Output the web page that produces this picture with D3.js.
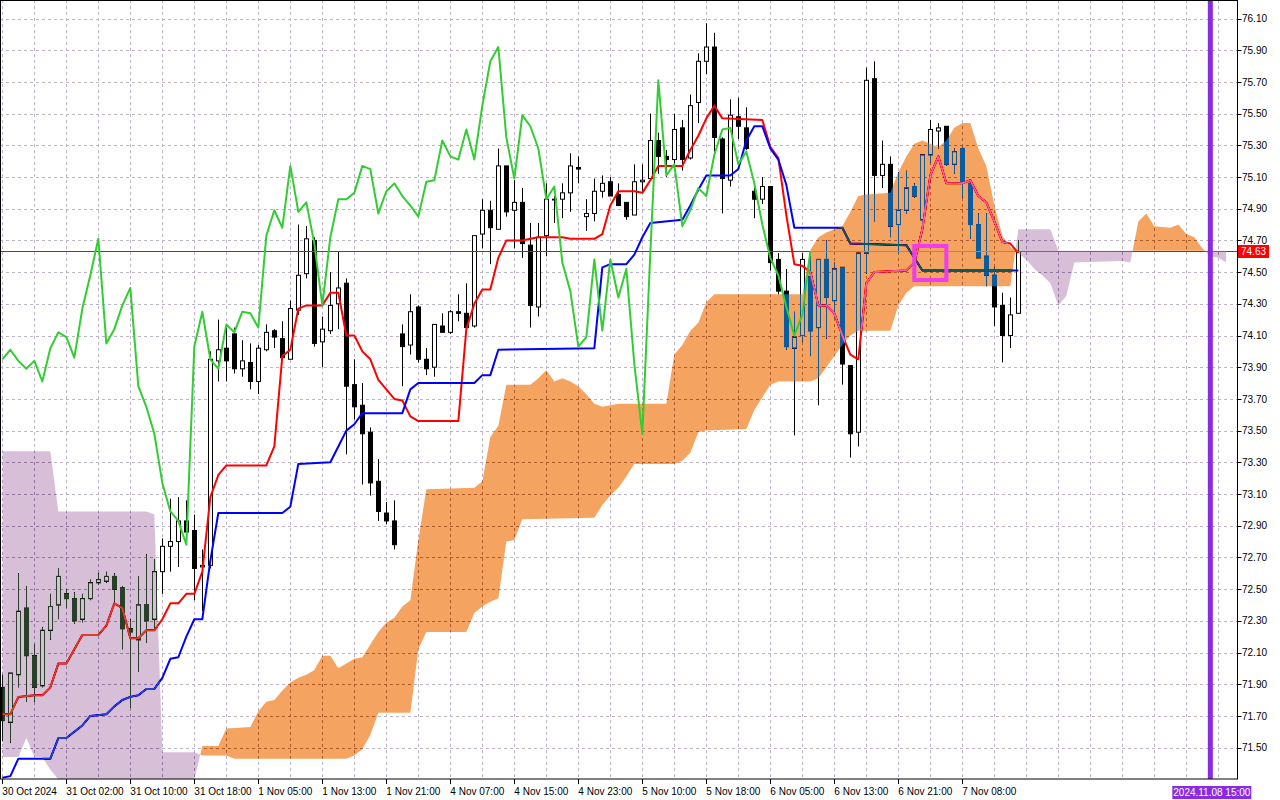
<!DOCTYPE html>
<html>
<head>
<meta charset="utf-8">
<script src="https://d3js.org/d3.v7.min.js"></script>
<style>
html, body { margin: 0; padding: 0; background: #fff; }
svg { display: block; }
text { font-family: "Liberation Sans", Arial, sans-serif; font-size: 10px; }
</style>
</head>
<body>
<svg id="chart" width="1280" height="800"></svg>
<script>
// H1 candles, [open, high, low, close], bar 0 = 30 Oct 2024
const candles = [
  [71.88,71.96,71.54,71.67],[71.66,71.97,71.53,71.97],[71.96,72.60,71.88,72.36],[72.38,72.52,71.79,72.08],
  [72.08,72.15,71.79,71.88],[71.89,72.26,71.88,72.24],[72.24,72.47,72.18,72.39],[72.40,72.63,72.31,72.58],
  [72.47,72.50,72.38,72.44],[72.44,72.48,72.28,72.30],[72.31,72.47,72.29,72.44],[72.44,72.56,72.43,72.54],
  [72.54,72.60,72.53,72.56],[72.55,72.61,72.54,72.58],[72.58,72.60,72.42,72.50],[72.51,72.52,72.12,72.25],
  [72.25,72.31,71.75,72.23],[72.18,72.58,71.98,72.40],[72.40,72.72,72.16,72.30],[72.31,72.69,72.25,72.61],
  [72.61,72.82,72.47,72.77],[72.77,73.07,72.61,72.80],[72.80,73.08,72.64,72.93],[72.93,73.06,72.79,72.86],
  [72.87,72.97,72.43,72.63],[72.64,72.75,72.36,72.65],[72.65,74.00,72.63,73.95],[73.94,74.20,73.81,74.01],
  [74.02,74.15,73.81,73.94],[74.11,74.15,73.86,73.89],[73.89,74.07,73.84,73.94],[73.93,74.05,73.76,73.81],
  [73.81,74.04,73.73,74.02],[74.01,74.17,74.00,74.12],[74.13,74.14,74.02,74.09],[74.08,74.19,73.96,73.96],
  [73.95,74.32,73.95,74.27],[74.26,74.80,74.23,74.48],[74.49,74.79,74.46,74.71],[74.70,74.72,74.03,74.05],
  [74.06,74.22,73.90,74.14],[74.13,74.50,74.11,74.29],[74.30,74.63,74.14,74.40],[74.43,74.46,73.35,73.78],
  [73.79,73.95,73.57,73.65],[73.66,73.80,73.16,73.48],[73.49,73.52,73.09,73.17],[73.18,73.32,72.93,72.99],
  [72.98,73.05,72.91,72.93],[72.93,73.06,72.75,72.78],[74.11,74.17,73.78,74.03],[74.04,74.36,73.98,74.25],
  [74.28,74.29,73.93,73.95],[73.95,74.02,73.85,73.89],[73.90,74.17,73.84,74.17],[74.16,74.24,74.12,74.12],
  [74.12,74.26,74.11,74.25],[74.25,74.36,74.19,74.24],[74.24,74.43,74.15,74.15],[74.16,74.73,74.15,74.73],
  [74.74,74.96,74.65,74.89],[74.89,74.95,74.55,74.78],[74.77,75.28,74.77,75.17],[75.17,75.17,74.85,74.88],
  [74.89,75.08,74.65,74.94],[74.94,75.03,74.59,74.68],[74.67,74.81,74.15,74.29],[74.28,74.81,74.22,74.72],
  [74.73,75.06,74.60,74.96],[74.96,74.98,74.81,74.96],[74.96,75.06,74.84,75.00],[75.00,75.25,74.88,75.17],
  [75.16,75.23,75.06,75.15],[74.85,74.96,74.76,74.87],[74.87,75.09,74.82,75.01],[75.01,75.11,74.97,75.06],
  [75.07,75.10,74.98,74.98],[74.99,75.06,74.92,74.92],[74.94,74.94,74.83,74.85],[74.86,75.18,74.86,75.07],
  [75.07,75.18,75.00,75.08],[75.09,75.50,75.09,75.33],[75.33,75.38,75.12,75.23],[75.23,75.27,75.10,75.21],
  [75.21,75.50,75.16,75.40],[75.41,75.46,75.14,75.21],[75.22,75.62,75.21,75.55],[75.57,75.88,75.44,75.83],
  [75.83,76.07,75.75,75.92],[75.92,76.01,75.26,75.35],[75.34,75.35,74.87,75.09],[75.08,75.59,75.04,75.49],
  [75.48,75.60,75.34,75.42],[75.41,75.54,75.27,75.28],[75.01,75.04,74.84,74.96],[74.96,75.10,74.93,75.04],
  [75.04,75.04,74.51,74.56],[74.58,74.62,74.36,74.38],[74.38,74.52,74.01,74.03],[74.02,74.25,73.47,74.09],
  [74.10,74.62,74.06,74.58],[74.47,74.60,73.97,74.13],[74.15,74.58,73.66,74.58],[74.58,74.70,74.08,74.34],
  [74.32,74.56,74.21,74.52],[74.53,74.53,73.79,73.92],[73.91,73.91,73.33,73.48],[73.49,74.62,73.40,74.62],
  [74.62,75.79,74.49,75.71],[75.72,75.83,74.82,75.11],[75.11,75.33,75.03,75.18],[75.18,75.23,74.72,74.79],
  [74.80,75.13,74.62,74.89],[74.89,75.14,74.87,75.03],[75.04,75.06,74.97,74.98],[74.83,75.24,74.78,75.24],
  [75.24,75.46,75.19,75.40],[75.39,75.44,75.28,75.41],[75.42,75.42,75.17,75.18],[75.18,75.28,75.12,75.26],
  [75.28,75.29,74.97,75.06],[75.06,75.06,74.71,74.80],[74.80,74.87,74.59,74.59],[74.60,74.87,74.41,74.48],
  [74.48,74.53,74.16,74.28],[74.29,74.37,73.93,74.10],[74.10,74.34,74.02,74.23],[74.24,74.70,74.24,74.63]
];

// indicator lines as [bar, price] vertices
const tenkan = [
  [0,71.71],[1,71.71],[2,71.82],[4,71.83],[5,71.83],[6,71.88],[7,72.03],[8,72.03],[10,72.21],[12,72.21],
  [13,72.27],[14,72.41],[15,72.38],[16,72.19],[17,72.19],[18,72.24],[19,72.24],[20,72.31],[21,72.41],[22,72.41],
  [23,72.47],[24,72.47],[25,72.61],[26,73.08],[27,73.22],[28,73.28],[33,73.28],[34,73.40],[35,73.97],[36,74.01],
  [37,74.27],[38,74.29],[40,74.29],[41,74.37],[42,74.37],[43,74.10],[44,74.10],[45,74.00],[46,73.95],[47,73.82],
  [49,73.70],[50,73.69],[51,73.59],[52,73.56],[57,73.56],[58,74.14],[59,74.30],[60,74.39],[61,74.39],[62,74.59],
  [63,74.70],[65,74.70],[66,74.71],[67,74.72],[70,74.72],[71,74.71],[74,74.71],[75,74.74],[76,74.92],[77,75.01],
  [79,75.01],[80,75.00],[81,75.08],[82,75.17],[85,75.17],[86,75.27],[87,75.36],[88,75.47],[89,75.55],[90,75.47],
  [95,75.46],[96,75.29],[97,75.22],[98,74.86],[99,74.55],[100,74.54],[101,74.50],[102,74.29],[103,74.29],[104,74.24],
  [105,74.10],[106,73.98],[107,73.95],[108,74.43],[109,74.50],[113,74.51],[114,74.56],[115,74.77],[116,75.11],[117,75.23],
  [118,75.06],[120,75.06],[121,75.08],[122,74.98],[123,74.94],[124,74.82],[125,74.69],[126,74.68],[127,74.62]
];

const kijun = [
  [0,71.31],[1,71.32],[2,71.43],[6,71.43],[7,71.56],[8,71.56],[10,71.64],[11,71.70],[13,71.71],[14,71.76],
  [15,71.80],[16,71.82],[17,71.83],[18,71.87],[19,71.87],[20,71.94],[21,72.06],[22,72.07],[23,72.20],[24,72.31],
  [25,72.31],[26,72.68],[27,72.98],[35,72.98],[36,73.02],[37,73.29],[41,73.30],[42,73.40],[43,73.50],[44,73.54],
  [45,73.61],[50,73.61],[51,73.76],[52,73.80],[59,73.80],[60,73.85],[61,73.85],[62,74.01],[74,74.02],[75,74.53],
  [76,74.55],[78,74.55],[79,74.61],[80,74.72],[81,74.81],[85,74.83],[86,74.92],[87,75.02],[88,75.11],[91,75.11],
  [92,75.15],[93,75.33],[94,75.42],[95,75.42],[96,75.28],[97,75.21],[98,75.05],[99,74.78],[105,74.78],[106,74.68],
  [113,74.67],[114,74.59],[115,74.51],[127,74.51]
];

const spanA = [
  [0,71.44],[2,71.44],[3,71.56],[4,71.44],[5,71.44],[6,71.36],[7,71.30],[24,71.30],[25,71.51],[27,71.51],
  [28,71.62],[31,71.63],[32,71.73],[33,71.79],[34,71.80],[35,71.86],[36,71.91],[37,71.94],[38,71.96],[39,71.99],
  [40,72.08],[41,72.08],[42,72.00],[43,72.03],[44,72.06],[45,72.07],[46,72.15],[47,72.23],[48,72.29],[49,72.32],
  [50,72.39],[51,72.43],[52,72.81],[53,73.13],[59,73.14],[60,73.18],[61,73.46],[62,73.53],[63,73.79],[66,73.79],
  [67,73.83],[68,73.88],[69,73.81],[70,73.83],[71,73.81],[72,73.78],[73,73.73],[74,73.67],[75,73.65],[76,73.66],
  [77,73.67],[83,73.67],[84,73.98],[85,74.04],[86,74.13],[87,74.18],[88,74.31],[89,74.36],[100,74.36],[101,74.64],
  [102,74.72],[103,74.75],[104,74.77],[105,74.79],[106,74.88],[107,74.98],[108,74.99],[111,75.00],[112,75.13],[113,75.23],
  [114,75.31],[115,75.33],[116,75.31],[117,75.29],[118,75.33],[119,75.41],[120,75.44],[121,75.44],[122,75.28],[123,75.17],
  [124,74.92],[125,74.73],[126,74.66],[127,74.62],[128,74.58],[129,74.52],[130,74.48],[131,74.43],[132,74.29],[133,74.35],
  [134,74.56],[140,74.57],[141,74.56],[142,74.82],[143,74.87],[144,74.79],[146,74.78],[147,74.80],[148,74.74],[149,74.72],
  [150,74.65],[151,74.60],[152,74.59],[153,74.56]
];

const spanB = [
  [0,73.37],[6,73.37],[7,72.99],[18,72.99],[19,72.97],[20,71.47],[24,71.47],[25,71.45],[28,71.45],[29,71.43],
  [43,71.43],[44,71.45],[45,71.49],[46,71.58],[47,71.72],[51,71.72],[52,72.12],[53,72.23],[58,72.23],[59,72.35],
  [60,72.39],[61,72.42],[62,72.44],[63,72.80],[64,72.81],[65,72.94],[74,72.95],[75,73.03],[76,73.09],[77,73.14],
  [78,73.21],[79,73.29],[84,73.29],[85,73.31],[86,73.36],[87,73.49],[88,73.50],[93,73.51],[94,73.63],[95,73.71],
  [96,73.79],[97,73.81],[101,73.81],[102,73.83],[103,73.90],[104,73.97],[105,74.04],[106,74.10],[107,74.13],[111,74.13],
  [112,74.29],[113,74.37],[114,74.41],[126,74.41],[127,74.77],[131,74.77],[132,74.635],[153,74.635]
];

const chikouShift = 26;

const timeLabels = ["30 Oct 2024","31 Oct 02:00","31 Oct 10:00","31 Oct 18:00","1 Nov 05:00","1 Nov 13:00",
  "1 Nov 21:00","4 Nov 07:00","4 Nov 15:00","4 Nov 23:00","5 Nov 10:00","5 Nov 18:00","6 Nov 05:00",
  "6 Nov 13:00","6 Nov 21:00","7 Nov 08:00"];
const timeLabelStep = 8;

const priceTicks = [71.50,71.70,71.90,72.10,72.30,72.50,72.70,72.90,73.10,73.30,73.50,73.70,
  73.90,74.10,74.30,74.50,74.70,74.90,75.10,75.30,75.50,75.70,75.90,76.10];

const lastPrice = 74.63;
const markerBar = 151;
const markerLabel = "2024.11.08 15:00";
const boxBars = [114, 118];
const boxPrices = [74.665, 74.45];

// ---- layout
const W = 1280, H = 800;
const plotW = 1237, plotH = 779;

const x = d3.scaleLinear().domain([0, 150]).range([2.33, 1202.33]);
const y = d3.scaleLinear().domain([71.5, 76.1]).range([747.6, 18.5]);
const px = v => Math.round(x(v)) + 0.5;

const svg = d3.select("#chart");
svg.append("rect").attr("width", W).attr("height", H).attr("fill", "#fff");

const defs = svg.append("defs");
defs.append("clipPath").attr("id", "plotClip")
  .append("rect").attr("x", 0).attr("y", 0).attr("width", plotW).attr("height", plotH);

const plot = svg.append("g").attr("clip-path", "url(#plotClip)");
// white backdrop inside the clipped group so the cloud blend has something to mix with
plot.append("rect").attr("width", plotW).attr("height", plotH).attr("fill", "#fff");

// grid
const grid = plot.append("g")
  .attr("stroke", "#bcb4c6")
  .attr("stroke-width", 1)
  .attr("stroke-dasharray", "3,3");

grid.selectAll("line.h")
  .data(priceTicks)
  .join("line")
  .attr("class", "h")
  .attr("x1", 0).attr("x2", plotW)
  .attr("y1", d => Math.round(y(d)) + 0.5)
  .attr("y2", d => Math.round(y(d)) + 0.5);

grid.selectAll("line.v")
  .data(d3.range(0, 155, 4))
  .join("line")
  .attr("class", "v")
  .attr("x1", d => px(d)).attr("x2", d => px(d))
  .attr("y1", 0).attr("y2", plotH);

// candles
const cg = plot.append("g");
cg.selectAll("line")
  .data(candles)
  .join("line")
  .attr("x1", (d, i) => px(i)).attr("x2", (d, i) => px(i))
  .attr("y1", d => y(d[1])).attr("y2", d => y(d[2]))
  .attr("stroke", "#000").attr("stroke-width", 1);

cg.selectAll("rect")
  .data(candles)
  .join("rect")
  .attr("x", (d, i) => px(i) - 2)
  .attr("width", 4)
  .attr("y", d => y(Math.max(d[0], d[3])))
  .attr("height", d => Math.max(0.8, Math.abs(y(d[0]) - y(d[3]))))
  .attr("fill", d => d[3] >= d[0] ? "#fff" : "#000")
  .attr("stroke", "#000").attr("stroke-width", 1);

// bid line
plot.append("line")
  .attr("x1", 0).attr("x2", plotW)
  .attr("y1", Math.round(y(lastPrice)) + 0.5).attr("y2", Math.round(y(lastPrice)) + 0.5)
  .attr("stroke", "#ff0000").attr("stroke-width", 1);

const line = d3.line().x(d => x(d[0])).y(d => y(d[1]));

plot.append("path")
  .attr("d", line(tenkan))
  .attr("fill", "none").attr("stroke", "#ff0000").attr("stroke-width", 2)
  .attr("stroke-linejoin", "round");

plot.append("path")
  .attr("d", line(kijun))
  .attr("fill", "none").attr("stroke", "#0000ff").attr("stroke-width", 2)
  .attr("stroke-linejoin", "round");

// cloud: orange where A above B, thistle where B above A (drawn with difference blend like the terminal)
const above = d3.area().x(d => x(d[0])).y0(-200).y1(d => y(d[1]));
const below = d3.area().x(d => x(d[0])).y0(1200).y1(d => y(d[1]));

defs.append("clipPath").attr("id", "aboveB").append("path").attr("d", above(spanB));
defs.append("clipPath").attr("id", "aboveA").append("path").attr("d", above(spanA));

const cloud = plot.append("g").style("mix-blend-mode", "difference");
cloud.append("path")
  .attr("d", below(spanA))
  .attr("clip-path", "url(#aboveB)")
  .attr("fill", "rgb(11,91,159)");
cloud.append("path")
  .attr("d", below(spanB))
  .attr("clip-path", "url(#aboveA)")
  .attr("fill", "rgb(39,64,39)");

// chikou span: close shifted back
const chikou = candles.slice(chikouShift).map((d, j) => [j, d[3]]);
plot.append("path")
  .attr("d", line(chikou))
  .attr("fill", "none").attr("stroke", "#32cd32").attr("stroke-width", 2)
  .attr("stroke-linejoin", "round");

// marker box
plot.append("rect")
  .attr("x", x(boxBars[0])).attr("y", y(boxPrices[0]))
  .attr("width", x(boxBars[1]) - x(boxBars[0]))
  .attr("height", y(boxPrices[1]) - y(boxPrices[0]))
  .attr("fill", "none").attr("stroke", "#f03cf0").attr("stroke-width", 4);

// vertical time marker
plot.append("line")
  .attr("x1", x(markerBar)).attr("x2", x(markerBar))
  .attr("y1", 0).attr("y2", plotH)
  .attr("stroke", "#8a2be2").attr("stroke-width", 5);

// frame
svg.append("rect")
  .attr("x", 0.5).attr("y", 0.5).attr("width", plotW).attr("height", plotH - 0.5)
  .attr("fill", "none").attr("stroke", "#000").attr("stroke-width", 1);

// price axis
const ya = svg.append("g");
ya.selectAll("line")
  .data(priceTicks)
  .join("line")
  .attr("x1", plotW + 0.5).attr("x2", plotW + 4.5)
  .attr("y1", d => Math.round(y(d)) + 0.5).attr("y2", d => Math.round(y(d)) + 0.5)
  .attr("stroke", "#000");
ya.selectAll("text")
  .data(priceTicks)
  .join("text")
  .attr("x", plotW + 5)
  .attr("y", d => y(d) + 3.6)
  .attr("fill", "#000")
  .text(d => d.toFixed(2));

ya.append("rect")
  .attr("x", plotW + 1).attr("y", y(lastPrice) - 6.5)
  .attr("width", 31).attr("height", 13)
  .attr("fill", "#ff0000");
ya.append("text")
  .attr("x", plotW + 4).attr("y", y(lastPrice) + 3.6)
  .attr("fill", "#fff")
  .text(lastPrice.toFixed(2));

// time axis
const xa = svg.append("g");
xa.selectAll("line")
  .data(timeLabels)
  .join("line")
  .attr("x1", (d, i) => px(i * timeLabelStep)).attr("x2", (d, i) => px(i * timeLabelStep))
  .attr("y1", plotH).attr("y2", plotH + 5)
  .attr("stroke", "#000");
xa.selectAll("text")
  .data(timeLabels)
  .join("text")
  .attr("x", (d, i) => x(i * timeLabelStep))
  .attr("y", 795)
  .attr("fill", "#000")
  .text(d => d);

const mx = x(markerBar);
xa.append("rect")
  .attr("x", mx - 38).attr("y", 786)
  .attr("width", 79).attr("height", 13)
  .attr("fill", "#8a2be2");
xa.append("text")
  .attr("x", mx + 1.5).attr("y", 796)
  .attr("text-anchor", "middle")
  .attr("fill", "#fff")
  .text(markerLabel);
</script>
</body>
</html>
